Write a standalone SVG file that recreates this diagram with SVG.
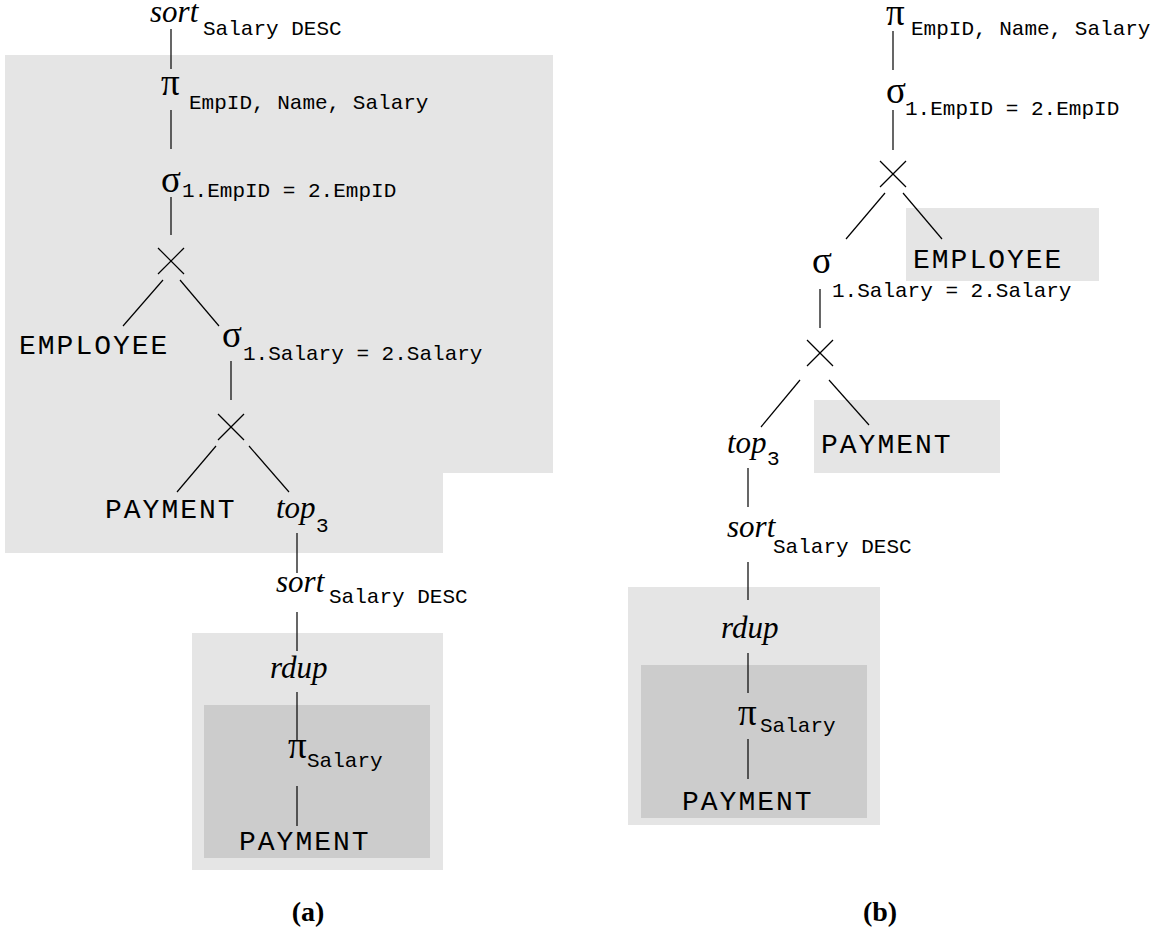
<svg xmlns="http://www.w3.org/2000/svg" width="1159" height="934" viewBox="0 0 1159 934">
  <style>
    .op { font-family: "Liberation Serif", "Times New Roman", serif; font-style: italic; font-size: 31px; fill: #000; }
    .gk { font-family: "Liberation Serif", "Times New Roman", serif; font-size: 37px; fill: #000; }
    .rel { font-family: "Liberation Mono", "Courier New", monospace; font-size: 28px; letter-spacing: 2px; fill: #000; }
    .sub { font-family: "Liberation Mono", "Courier New", monospace; font-size: 21px; fill: #000; }
    .cap { font-family: "Liberation Serif", "Times New Roman", serif; font-weight: bold; font-size: 28px; fill: #000; text-anchor: middle; }
    .edge { stroke: #000; stroke-width: 1.2; fill: none; }
    .light { fill: #e5e5e5; }
    .dark { fill: #cccccc; }
  </style>
  <defs>
    <g id="cross">
      <line class="edge" x1="-13" y1="-13" x2="13" y2="13"/>
      <line class="edge" x1="-13" y1="13" x2="13" y2="-13"/>
    </g>
  </defs>
  <rect width="1159" height="934" fill="#fff"/>

  <!-- shaded regions -->
  <g id="regions">
    <polygon class="light" points="5,55 553,55 553,473 443,473 443,553 5,553"/>
    <rect class="light" x="192" y="633" width="251" height="237"/>
    <rect class="dark" x="204" y="705" width="226" height="153"/>
    <rect class="light" x="906" y="208" width="193" height="73"/>
    <rect class="light" x="814" y="400" width="186" height="73"/>
    <rect class="light" x="628" y="587" width="252" height="238"/>
    <rect class="dark" x="641" y="665" width="226" height="153"/>
  </g>

  <!-- connectors -->
  <g id="connectors">
    <!-- tree (a) -->
    <line class="edge" x1="171" y1="29" x2="171" y2="69"/>
    <line class="edge" x1="171" y1="110" x2="171" y2="149"/>
    <line class="edge" x1="171" y1="197" x2="171" y2="235"/>
    <line class="edge" x1="163" y1="280" x2="123" y2="326"/>
    <line class="edge" x1="180" y1="280" x2="219" y2="326"/>
    <line class="edge" x1="231" y1="361" x2="231" y2="400"/>
    <line class="edge" x1="216" y1="446" x2="177" y2="492"/>
    <line class="edge" x1="249" y1="446" x2="289" y2="492"/>
    <line class="edge" x1="297" y1="533" x2="297" y2="573"/>
    <line class="edge" x1="297" y1="612" x2="297" y2="651"/>
    <line class="edge" x1="297" y1="692" x2="297" y2="740"/>
    <line class="edge" x1="297" y1="786" x2="297" y2="826"/>
    <!-- tree (b) -->
    <line class="edge" x1="893" y1="31" x2="893" y2="70"/>
    <line class="edge" x1="893" y1="110" x2="893" y2="150"/>
    <line class="edge" x1="885" y1="193" x2="846" y2="239"/>
    <line class="edge" x1="903" y1="193" x2="942" y2="239"/>
    <line class="edge" x1="820" y1="289" x2="820" y2="328"/>
    <line class="edge" x1="800" y1="380" x2="761" y2="427"/>
    <line class="edge" x1="829" y1="380" x2="869" y2="425"/>
    <line class="edge" x1="748" y1="468" x2="748" y2="507"/>
    <line class="edge" x1="748" y1="562" x2="748" y2="600"/>
    <line class="edge" x1="748" y1="653" x2="748" y2="693"/>
    <line class="edge" x1="748" y1="739" x2="748" y2="779"/>
  </g>

  <!-- tree (a) nodes -->
  <g id="a-sort-top"><text class="op" x="150" y="22">sort</text><text class="sub" x="203" y="35">Salary DESC</text></g>
  <g id="a-project"><text class="gk" x="161" y="95">π</text><text class="sub" x="189" y="109">EmpID, Name, Salary</text></g>
  <g id="a-select-empid"><text class="gk" x="161" y="192">σ</text><text class="sub" x="182" y="197">1.EmpID = 2.EmpID</text></g>
  <g id="a-product-1"><use href="#cross" x="171" y="261"/></g>
  <g id="a-employee"><text class="rel" x="19" y="354">EMPLOYEE</text></g>
  <g id="a-select-salary"><text class="gk" x="222" y="347">σ</text><text class="sub" x="243" y="360">1.Salary = 2.Salary</text></g>
  <g id="a-product-2"><use href="#cross" x="231" y="427"/></g>
  <g id="a-payment-1"><text class="rel" x="105" y="518">PAYMENT</text></g>
  <g id="a-top"><text class="op" x="276" y="518">top</text><text class="sub" x="316" y="532">3</text></g>
  <g id="a-sort"><text class="op" x="276" y="592">sort</text><text class="sub" x="329" y="603">Salary DESC</text></g>
  <g id="a-rdup"><text class="op" x="270" y="678">rdup</text></g>
  <g id="a-project-salary"><text class="gk" x="288" y="758">π</text><text class="sub" x="307" y="767">Salary</text></g>
  <g id="a-payment-2"><text class="rel" x="239" y="850">PAYMENT</text></g>

  <!-- tree (b) nodes -->
  <g id="b-project"><text class="gk" x="886" y="25">π</text><text class="sub" x="911" y="35">EmpID, Name, Salary</text></g>
  <g id="b-select-empid"><text class="gk" x="886" y="103">σ</text><text class="sub" x="905" y="115">1.EmpID = 2.EmpID</text></g>
  <g id="b-product-1"><use href="#cross" x="893" y="174"/></g>
  <g id="b-employee"><text class="rel" x="913" y="268">EMPLOYEE</text></g>
  <g id="b-select-salary"><text class="gk" x="812" y="273">σ</text><text class="sub" x="832" y="297">1.Salary = 2.Salary</text></g>
  <g id="b-product-2"><use href="#cross" x="820" y="353"/></g>
  <g id="b-payment-1"><text class="rel" x="821" y="453">PAYMENT</text></g>
  <g id="b-top"><text class="op" x="727" y="453">top</text><text class="sub" x="767" y="465">3</text></g>
  <g id="b-sort"><text class="op" x="727" y="537">sort</text><text class="sub" x="773" y="553">Salary DESC</text></g>
  <g id="b-rdup"><text class="op" x="721" y="638">rdup</text></g>
  <g id="b-project-salary"><text class="gk" x="738" y="725">π</text><text class="sub" x="760" y="732">Salary</text></g>
  <g id="b-payment-2"><text class="rel" x="682" y="810">PAYMENT</text></g>

  <!-- captions -->
  <g id="captions">
    <text class="cap" x="308" y="921">(a)</text>
    <text class="cap" x="880" y="921">(b)</text>
  </g>
</svg>
